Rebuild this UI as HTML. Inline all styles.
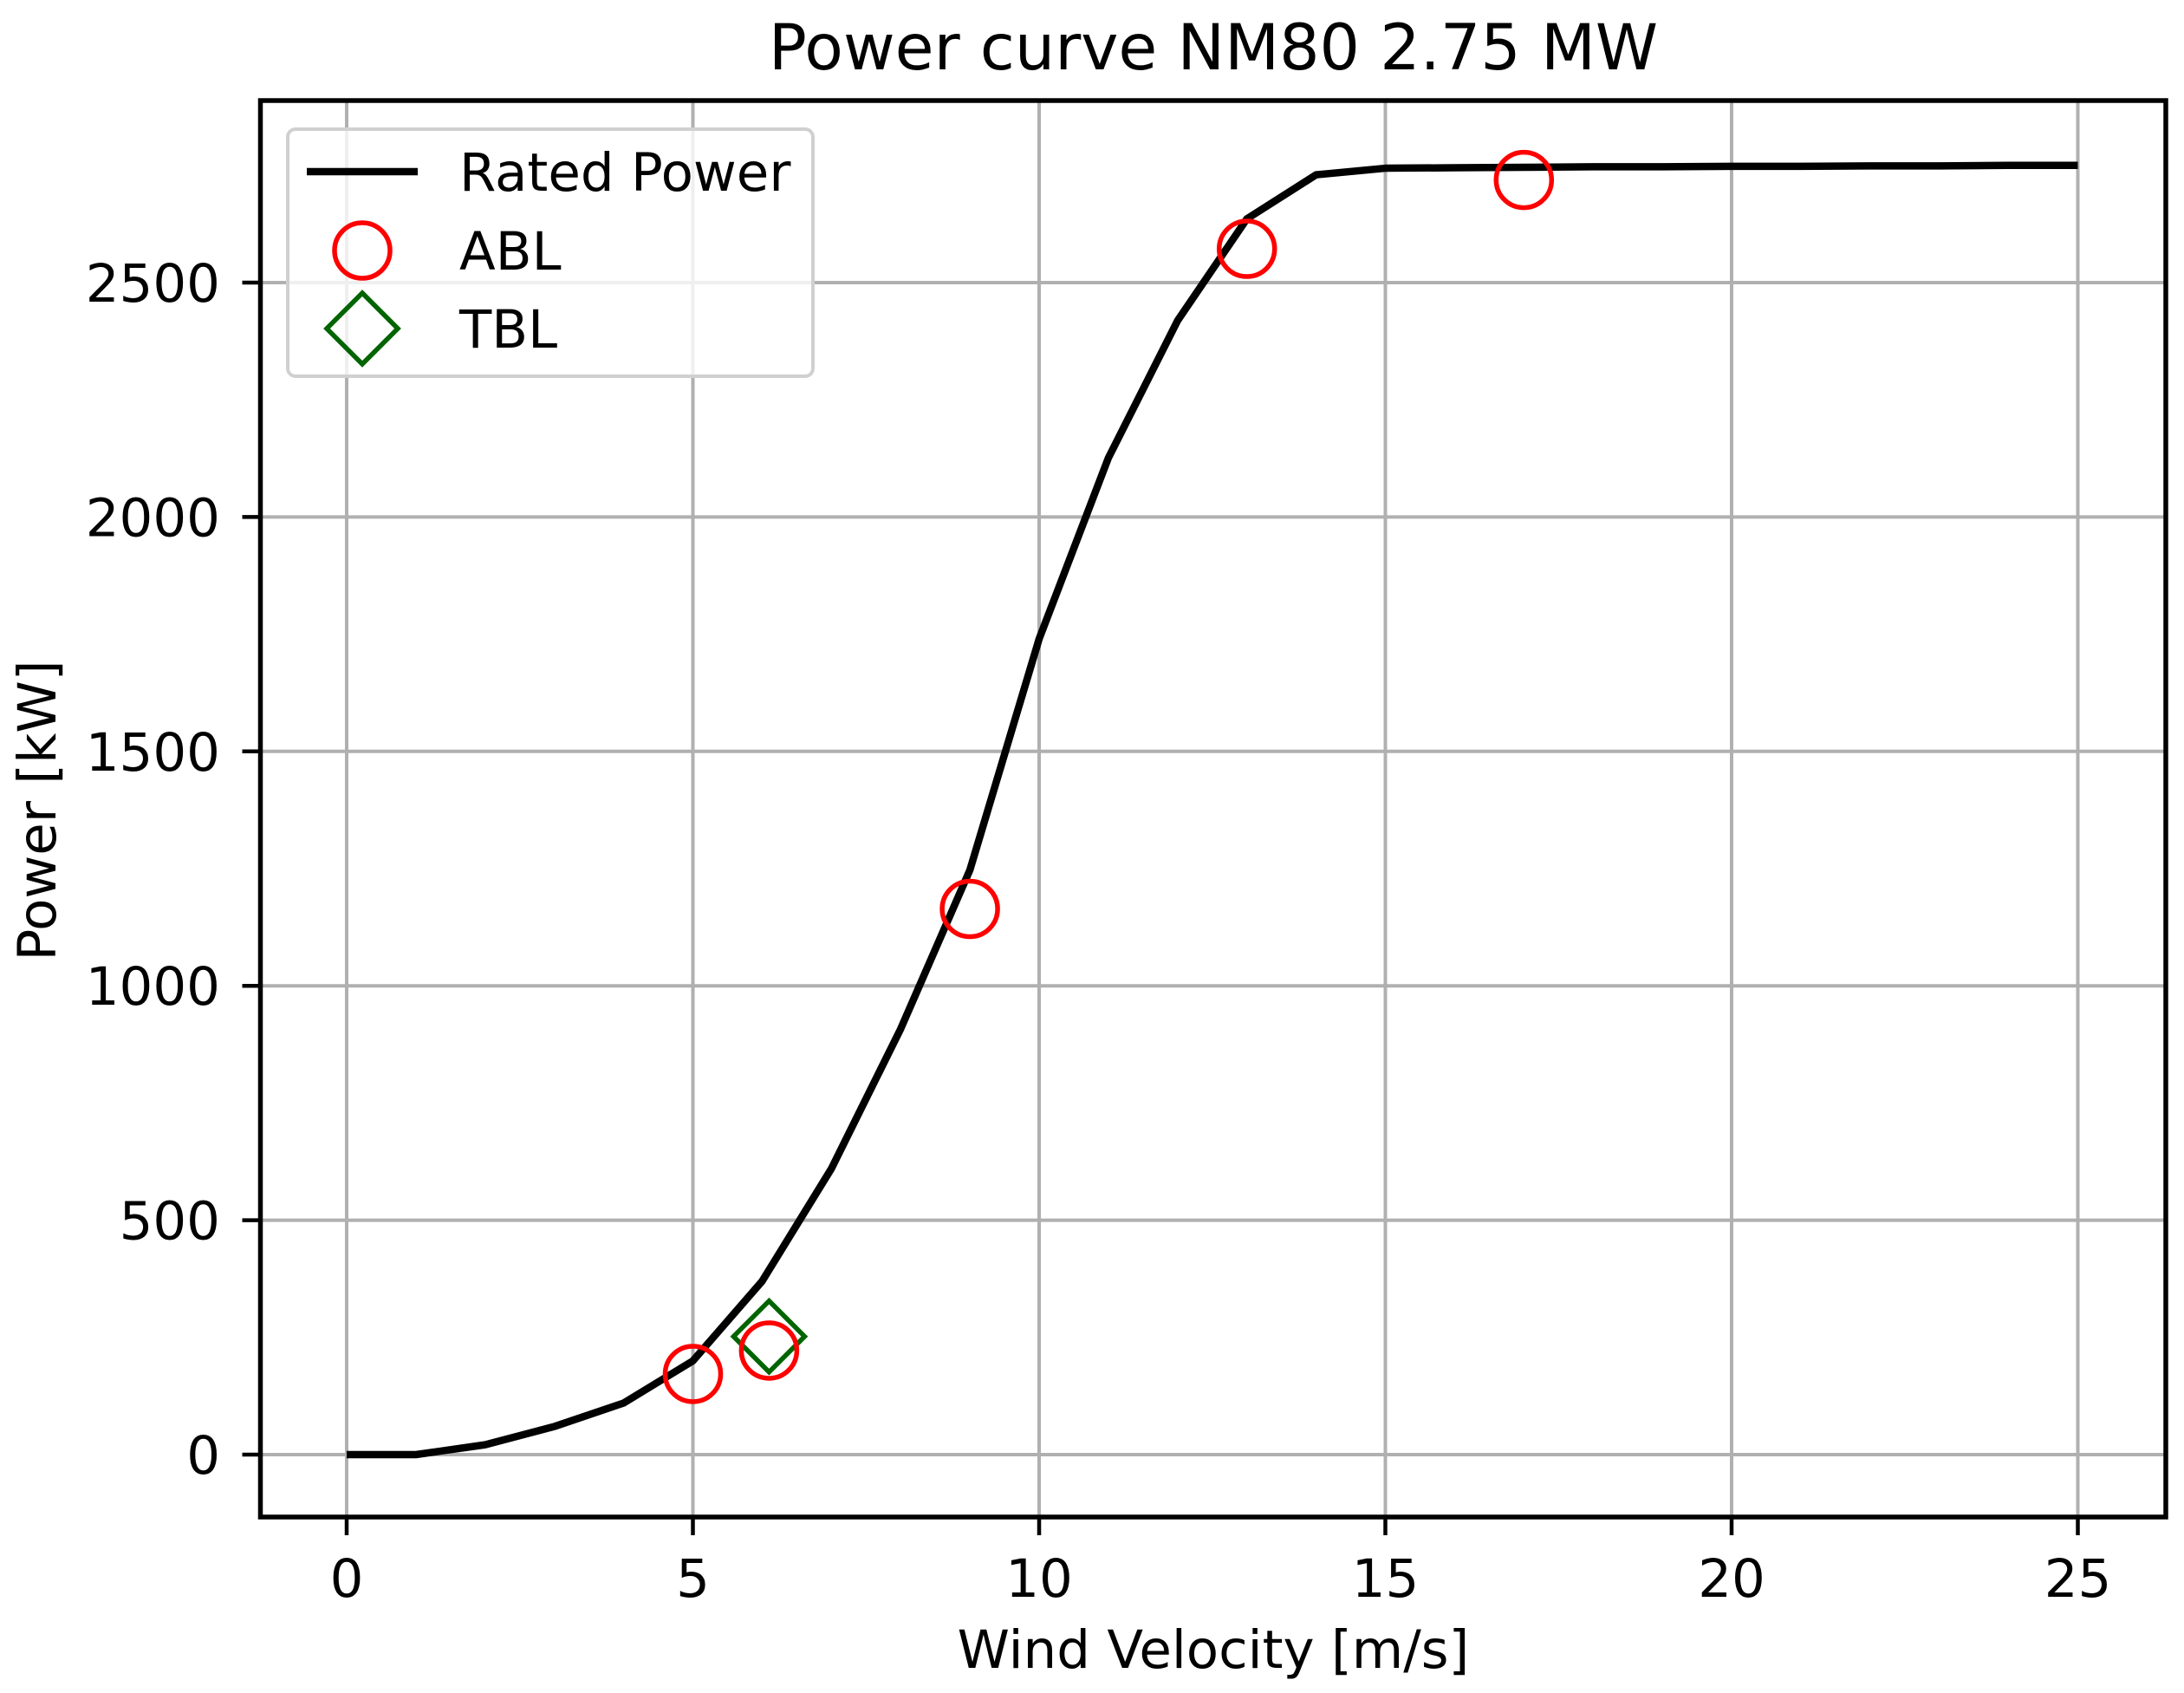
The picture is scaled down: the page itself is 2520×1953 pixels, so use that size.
<!DOCTYPE html>
<html><head><meta charset="utf-8"><style>
html,body{margin:0;padding:0;background:#fff}
svg{display:block}
text{font-family:"DejaVu Sans","Liberation Sans",sans-serif;fill:#000}
</style></head><body>
<svg id="chart" width="2520" height="1953" viewBox="0 0 2520 1953" xmlns="http://www.w3.org/2000/svg">
<rect width="2520" height="1953" fill="#fff"/>
<g id="grid"></g>
<g id="series"></g>
<rect x="300.5" y="116" width="2198.5" height="1634" fill="none" stroke="#000" stroke-width="5.5"/>
<g id="ticks"></g>
<text x="1400" y="80" font-size="73" text-anchor="middle">Power curve NM80 2.75 MW</text>
<text x="1400" y="1924" font-size="61" text-anchor="middle">Wind Velocity [m/s]</text>
<text x="0" y="0" font-size="61" text-anchor="middle" transform="translate(64,935) rotate(-90)">Power [kW]</text>
<g>
<rect x="332" y="149" width="606" height="285" rx="9" fill="#fff" fill-opacity="0.8" stroke="#d0d0d0" stroke-width="4"/>
<line x1="354" y1="198" x2="482" y2="198" stroke="#000" stroke-width="8.5"/>
<text x="530" y="220" font-size="61">Rated Power</text>
<circle cx="418" cy="289" r="32" fill="none" stroke="#ff0000" stroke-width="5.5"/>
<text x="530" y="311" font-size="61">ABL</text>
<polygon points="418,338 459,379 418,420 377,379" fill="none" stroke="#006400" stroke-width="5.5"/>
<text x="530" y="401" font-size="61">TBL</text>
</g>
</svg>
<script>
const windSpeeds = [0,1,2,3,4,5,6,7,8,9,10,11,12,13,14,15,16,17,18,19,20,21,22,23,24,25];
const ratedPower = [0,0,21,60,110,200,370,610,908,1247,1740,2126,2419,2636,2730,2744,2745,2746,2747,2747,2748,2748,2749,2749,2750,2750];
const ablWind = [5.0,6.1,9.0,13.0,17.0];
const ablPower = [172,222,1164,2572,2719];
const tblWind = [6.1];
const tblPower = [252];
const xTicks = [0,5,10,15,20,25];
const yTicks = [0,500,1000,1500,2000,2500];

const NS='http://www.w3.org/2000/svg';
const X0=400, XS=79.9, Y0=1678, YS=270.4/500;
const L=300.5, R=2499, T=116, B=1750;
function sx(v){return X0+v*XS;}
function sy(v){return Y0-v*YS;}
function mk(tag,attrs,parent){const e=document.createElementNS(NS,tag);for(const k in attrs)e.setAttribute(k,attrs[k]);parent.appendChild(e);return e;}
const grid=document.getElementById('grid'), ticks=document.getElementById('ticks'), series=document.getElementById('series');

xTicks.forEach(v=>{
  const g=mk('line',{x1:sx(v),x2:sx(v),y1:T,y2:B,stroke:'#b0b0b0','stroke-width':4},grid);
  
  
  const t=mk('line',{x1:sx(v),x2:sx(v),y1:B,y2:B+21,stroke:'#000','stroke-width':4.5},ticks);
  
  
  const l=mk('text',{x:sx(v),y:1842,'font-size':61,'text-anchor':'middle'},ticks);
  l.textContent=String(v);
  
  
});
yTicks.forEach(v=>{
  const g=mk('line',{x1:L,x2:R,y1:sy(v),y2:sy(v),stroke:'#b0b0b0','stroke-width':4},grid);
  
  
  const t=mk('line',{x1:L-21,x2:L,y1:sy(v),y2:sy(v),stroke:'#000','stroke-width':4.5},ticks);
  
  
  const l=mk('text',{x:254,y:sy(v)+22,'font-size':61,'text-anchor':'end'},ticks);
  l.textContent=String(v);
  
  
});

const pts=windSpeeds.map((w,i)=>sx(w)+','+sy(ratedPower[i])).join(' ');
const line=mk('polyline',{points:pts,fill:'none',stroke:'#000','stroke-width':8.5,'stroke-linejoin':'round'},series);



tblWind.forEach((w,i)=>{
  const cx=sx(w), cy=sy(tblPower[i]), r=41;
  const d=mk('polygon',{points:`${cx},${cy-r} ${cx+r},${cy} ${cx},${cy+r} ${cx-r},${cy}`,fill:'none',stroke:'#006400','stroke-width':5.5},series);
  
  
});
ablWind.forEach((w,i)=>{
  const c=mk('circle',{cx:sx(w),cy:sy(ablPower[i]),r:32,fill:'none',stroke:'#ff0000','stroke-width':5.5},series);
  
  
});
</script>
</body></html>
